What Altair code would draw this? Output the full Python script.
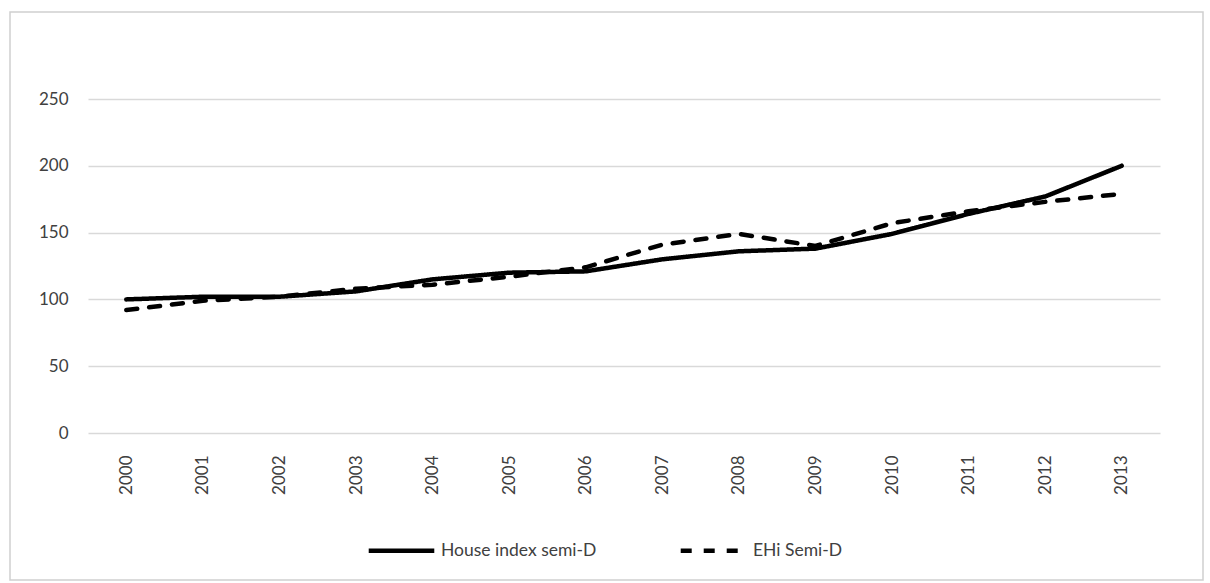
import altair as alt
import pandas as pd

# Annual index values, 2000-2013
years = [str(y) for y in range(2000, 2014)]
house_index = [100, 102, 102, 106, 115, 120, 121, 130, 136, 138, 149, 164, 177, 200]
ehi_index = [92, 99, 102, 108, 111, 117, 124, 141, 149, 140, 157, 166, 173, 179]

series_names = ["House index semi-D", "EHi Semi-D"]

rows = []
for yr, a, b in zip(years, house_index, ehi_index):
    rows.append({"year": yr, "series": series_names[0], "value": a})
    rows.append({"year": yr, "series": series_names[1], "value": b})
df = pd.DataFrame(rows)

FONT = "Lato"

lines = alt.Chart(df).mark_line(
    color="black", strokeWidth=4.5, strokeCap="round", strokeJoin="round"
).encode(
    x=alt.X(
        "year:O",
        sort=years,
        scale=alt.Scale(type="point", padding=0.5),
        axis=alt.Axis(
            title=None, labelAngle=270, labelPadding=22, ticks=False,
            domain=False, grid=False, labelFontSize=17, labelColor="#404040",
        ),
    ),
    y=alt.Y(
        "value:Q",
        scale=alt.Scale(domain=[0, 250], nice=False),
        axis=alt.Axis(
            title=None, values=[0, 50, 100, 150, 200, 250], ticks=False,
            domain=False, gridColor="#d9d9d9", gridWidth=1.5, labelPadding=20,
            labelFontSize=17, labelColor="#404040",
        ),
    ),
    strokeDash=alt.StrokeDash(
        "series:N",
        sort=series_names,
        scale=alt.Scale(domain=series_names, range=[[1, 0], [11, 12]]),
        legend=alt.Legend(
            title=None, orient="none", direction="horizontal",
            legendX=278, legendY=416, symbolType="stroke",
            symbolSize=4300, symbolStrokeWidth=4.5, symbolStrokeColor="black",
            labelFontSize=17.5, labelColor="#404040", labelOffset=4,
            columnPadding=74,
        ),
    ),
)

# Outer chart-area frame
frame = alt.Chart(pd.DataFrame({"k": [0]})).mark_rect(
    fill=None, stroke="#d0d0d0", strokeWidth=1.5, clip=False
).encode(
    x=alt.value(-78), x2=alt.value(1115), y=alt.value(-87), y2=alt.value(481)
)

chart = alt.layer(frame, lines).properties(
    width=1072, height=334,
    autosize=alt.AutoSizeParams(type="none"),
    padding={"left": 88, "top": 99, "right": 50, "bottom": 150},
).configure(
    font=FONT,
    background="white",
    view=alt.ViewConfig(stroke="transparent", strokeWidth=0),
)

chart.save("out.html", embed_options={"renderer": "svg", "actions": False})
